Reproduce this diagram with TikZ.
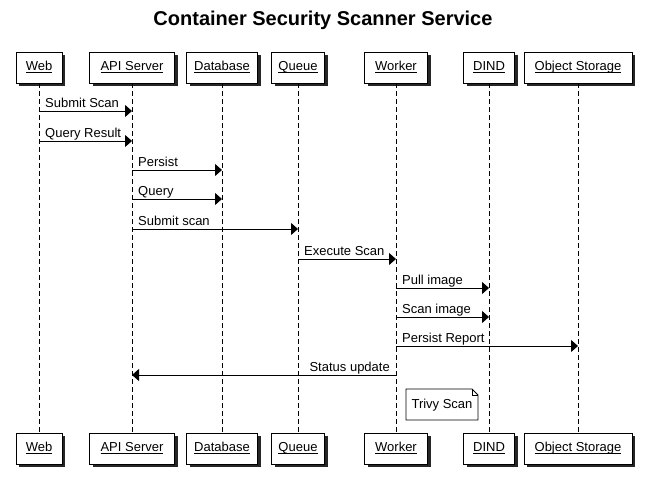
\documentclass[tikz,border=0pt]{standalone}
\usepackage{fontspec}
\setmainfont{Liberation Sans}
\usetikzlibrary{arrows.meta,shapes.misc}
\newcommand{\myul}[1]{\setbox0\hbox{#1}\leavevmode\rlap{\rule[-2pt]{\wd0}{0.8pt}}\box0}
\begin{document}
\begin{tikzpicture}[x=1pt,y=-1pt,
  actor/.style={draw=black,fill=white,line width=0.8pt,minimum height=31pt,inner sep=0pt,
    text height=9pt,text depth=3pt,font=\fontsize{13}{15}\selectfont},
  life/.style={line width=0.8pt,dash pattern=on 5pt off 3pt},
  msg/.style={line width=0.8pt,-{Triangle[length=7pt,width=12pt]}},
  lbl/.style={font=\fontsize{13}{15}\selectfont,inner sep=0pt},
  notebox/.style={font=\fontsize{13}{15}\selectfont}
]
\useasboundingbox (0,0) rectangle (646,489);
\node[font=\fontsize{20}{24}\selectfont\bfseries] (title) at (323,20) {Container Security Scanner Service};

% lifeline x positions and box widths
\def\actors{web/39/46/Web,api/132/85/API Server,db/222/71/Database,q/298/53/Queue,wk/396/63/Worker,dind/489/51/DIND,os/578/108/Object Storage}
\foreach \n/\x/\w/\t in \actors {
  \fill[black!85] (\x-\w/2+3,55) rectangle (\x+\w/2+3,86);
  \fill[black!85] (\x-\w/2+3,436) rectangle (\x+\w/2+3,467);
  \node[actor,minimum width=\w pt] (\n top) at (\x,67.5) {\myul{\t}};
  \node[actor,minimum width=\w pt] (\n bot) at (\x,448.5) {\myul{\t}};
  \draw[life] (\n top.south) -- (\n bot.north);
}

% messages
\foreach \a/\b/\y/\t [count=\i] in {web/api/111/Submit Scan,web/api/141/Query Result,api/db/170/Persist,api/db/199/Query,api/q/229/Submit scan,q/wk/259/Execute Scan,wk/dind/288/Pull image,wk/dind/317/Scan image,wk/os/346/Persist Report}{
  \coordinate (m\i s) at (\a top.south |- 0,\y);
  \coordinate (m\i e) at (\b top.south |- 0,\y);
  \draw[msg] (m\i s) -- (m\i e);
  \node[lbl,anchor=base west] (l\i) at ([xshift=6pt,yshift=3pt]m\i s) {\t};
}
\coordinate (m10s) at (wktop.south |- 0,375);
\coordinate (m10e) at (apitop.south |- 0,375);
\draw[msg] (m10s) -- (m10e);
\node[lbl,anchor=base east] (l10) at ([xshift=-6pt,yshift=3pt]m10s) {Status update};

% note
\draw[line width=0.8pt,fill=white] (406,389) -- (472,389) -- (478,395) -- (478,420) -- (406,420) -- cycle;
\draw[line width=0.6pt] (472,389) -- (472,395) -- (478,395);
\node[notebox] (note) at (442,405.5) {Trivy Scan};
\end{tikzpicture}
\end{document}
